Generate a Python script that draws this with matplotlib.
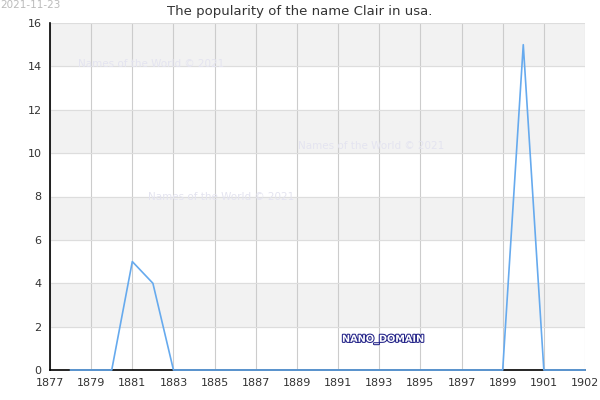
import matplotlib.pyplot as plt
import matplotlib.patheffects as pe

# Данные
years = list(range(1878, 1904))
counts = [0, 0, 0, 5, 4, 0, 0, 0, 0, 0, 0, 0, 0, 0, 0, 0, 0, 0, 0, 0, 0, 0, 15, 0, 0, 0]
x_ticks = list(range(1877, 1902, 2)) + [1903]
x_labels = [str(y) for y in range(1877, 1902, 2)] + ["1902"]
y_ticks = list(range(0, 17, 2))

fig = plt.figure(figsize=(6, 4), dpi=100)
ax = fig.add_axes([50 / 600, 30 / 400, 535 / 600, 347 / 400])

# Полосы фона
for lo in range(2, 16, 4):
    ax.axhspan(lo, lo + 2, color='#f2f2f2', zorder=0)

ax.plot(years, counts, color='#66aaee', linewidth=1.2, zorder=5, clip_on=False)

ax.set_xlim(1877, 1903)
ax.set_ylim(0, 16)
ax.set_xticks(x_ticks)
ax.set_xticklabels(x_labels)
ax.set_yticks(y_ticks)
ax.tick_params(labelsize=8, colors='#333333', length=0, pad=6)
ax.grid(axis='x', color='#cccccc', linewidth=0.8, zorder=1)
ax.grid(axis='y', color='#dddddd', linewidth=0.8, zorder=1)
ax.set_axisbelow(True)
for side in ['top', 'right']:
    ax.spines[side].set_visible(False)
ax.spines['left'].set_linewidth(1.2)
ax.spines['bottom'].set_linewidth(1.2)

fig.text(0.5, 0.987, "The popularity of the name Clair in usa.", fontsize=9.5, color='#333333',
         ha='center', va='top')
fig.text(0.0, 1.0, "2021-11-23", fontsize=7.5, color='#bbbbbb', va='top', ha='left')

wm = dict(fontsize=7.5, color='#e4e4f0', zorder=2, va='center')
ax.text(1878.36, 14.1, "Names of the World © 2021", **wm)
ax.text(1881.76, 7.98, "Names of the World © 2021", **wm)
ax.text(1889.05, 10.33, "Names of the World © 2021", **wm)
ax.text(1891.19, 1.43, "NANO_DOMAIN", fontsize=7, color='#ffffff', fontweight='bold', va='center',
        path_effects=[pe.withStroke(linewidth=1.5, foreground='#222288')], zorder=4)

fig.savefig("out.png")
